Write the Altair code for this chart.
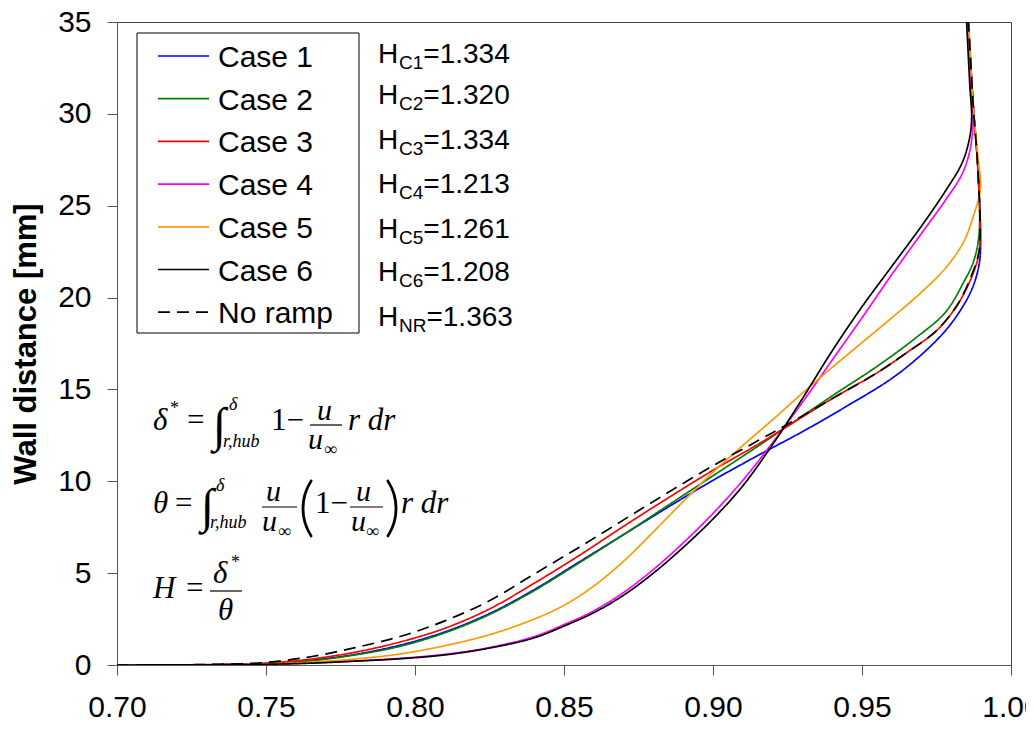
import altair as alt
import pandas as pd

# ---------------- data ----------------
series = ["Case 1", "Case 2", "Case 3", "Case 4", "Case 5", "Case 6", "No ramp"]
colors = ["#0000ff", "#008000", "#ff0000", "#ff00ff", "#ff9900", "#000000", "#000000"]

h_subs = ["C1", "C2", "C3", "C4", "C5", "C6", "NR"]
h_vals = ["1.334", "1.320", "1.334", "1.213", "1.261", "1.208", "1.363"]

x_ticks = [0.70, 0.75, 0.80, 0.85, 0.90, 0.95, 1.00]
y_ticks = [0, 5, 10, 15, 20, 25, 30, 35]

c1_x = [0.700, 0.720, 0.735, 0.750, 0.765, 0.780, 0.795, 0.810, 0.825, 0.840, 0.855, 0.870, 0.885, 0.900,
        0.915, 0.930, 0.945, 0.960, 0.970, 0.978, 0.983, 0.987, 0.9893, 0.9898, 0.9889, 0.9873, 0.9857]
c1_y = [0.00, 0.01, 0.02, 0.08, 0.25, 0.58, 1.08, 1.80, 2.80, 4.10, 5.60, 7.10, 8.60, 10.05,
        11.40, 12.70, 14.10, 15.60, 16.90, 18.20, 19.30, 20.50, 21.80, 23.00, 27.00, 30.50, 35.00]

c2_x = [0.700, 0.720, 0.735, 0.750, 0.765, 0.780, 0.795, 0.810, 0.825, 0.840, 0.855, 0.870, 0.885, 0.900,
        0.915, 0.925, 0.940, 0.955, 0.968, 0.978, 0.984, 0.9875, 0.9893, 0.9889, 0.9873, 0.9857]
c2_y = [0.00, 0.01, 0.02, 0.07, 0.23, 0.55, 1.02, 1.75, 2.75, 4.05, 5.55, 7.10, 8.70, 10.30,
        11.90, 13.00, 14.65, 16.25, 17.80, 19.20, 20.80, 22.00, 23.50, 27.00, 30.50, 35.00]

c3_x = [0.700, 0.720, 0.735, 0.750, 0.765, 0.780, 0.795, 0.810, 0.825, 0.840, 0.855, 0.870, 0.885, 0.900,
        0.915, 0.925, 0.940, 0.955, 0.965, 0.975, 0.982, 0.9865, 0.9890, 0.9896, 0.9889, 0.9873, 0.9857]
c3_y = [0.00, 0.01, 0.03, 0.10, 0.32, 0.70, 1.25, 2.00, 3.05, 4.45, 5.95, 7.55, 9.10, 10.60,
        12.00, 13.00, 14.50, 15.90, 17.00, 18.20, 19.60, 21.00, 22.20, 23.00, 27.00, 30.50, 35.00]

c4_x = [0.700, 0.730, 0.750, 0.765, 0.780, 0.795, 0.810, 0.825, 0.840, 0.850, 0.860, 0.870, 0.880, 0.890,
        0.900, 0.910, 0.920, 0.930, 0.940, 0.950, 0.960, 0.970, 0.978, 0.9835, 0.9862, 0.9873, 0.9866, 0.9857]
c4_y = [0.00, 0.01, 0.04, 0.11, 0.22, 0.36, 0.58, 0.95, 1.55, 2.20, 2.95, 3.95, 5.20, 6.65,
        8.25, 10.05, 12.10, 14.30, 16.60, 18.90, 21.25, 23.50, 25.30, 26.70, 28.00, 29.70, 31.50, 35.00]

c5_x = [0.700, 0.730, 0.750, 0.765, 0.780, 0.795, 0.810, 0.825, 0.840, 0.850, 0.860, 0.870, 0.880, 0.890,
        0.900, 0.910, 0.920, 0.930, 0.940, 0.950, 0.960, 0.970, 0.978, 0.984, 0.9875, 0.9898, 0.9890,
        0.9873, 0.9857]
c5_y = [0.00, 0.01, 0.05, 0.15, 0.33, 0.60, 1.05, 1.65, 2.50, 3.25, 4.30, 5.65, 7.25, 8.90,
        10.50, 11.95, 13.35, 14.80, 16.20, 17.55, 18.90, 20.30, 21.60, 23.00, 24.50, 26.00, 27.50,
        30.50, 35.00]

c6_x = [0.700, 0.730, 0.750, 0.765, 0.780, 0.795, 0.810, 0.825, 0.840, 0.850, 0.860, 0.870, 0.880, 0.890,
        0.900, 0.910, 0.920, 0.930, 0.940, 0.950, 0.960, 0.970, 0.978, 0.9835, 0.9860, 0.9868, 0.9862, 0.9851]
c6_y = [0.00, 0.01, 0.04, 0.10, 0.21, 0.34, 0.55, 0.92, 1.48, 2.12, 2.85, 3.80, 5.00, 6.40,
        7.95, 9.75, 12.00, 14.50, 17.10, 19.50, 21.70, 23.90, 25.80, 27.30, 28.60, 29.80, 31.50, 35.00]

nr_x = [0.700, 0.720, 0.735, 0.750, 0.765, 0.780, 0.795, 0.810, 0.825, 0.840, 0.855, 0.870, 0.885, 0.900,
        0.915, 0.925, 0.940, 0.955, 0.965, 0.975, 0.982, 0.9865, 0.9890, 0.9896, 0.9889, 0.9873, 0.9857]
nr_y = [0.00, 0.01, 0.04, 0.14, 0.45, 0.95, 1.55, 2.40, 3.50, 4.95, 6.40, 7.90, 9.40, 10.85,
        12.20, 13.10, 14.50, 15.90, 17.00, 18.20, 19.60, 21.10, 22.30, 23.00, 27.00, 30.50, 35.00]

curves_x = [c1_x, c2_x, c3_x, c4_x, c5_x, c6_x, nr_x]
curves_y = [c1_y, c2_y, c3_y, c4_y, c5_y, c6_y, nr_y]

rows = []
for name, xs_, ys_ in zip(series, curves_x, curves_y):
    for i, (xv, yv) in enumerate(zip(xs_, ys_)):
        rows.append({"series": name, "x": xv, "y": yv, "order": i})
df = pd.DataFrame(rows)

# ---------------- layout helpers (pixel -> data for annotations) ----------------
X0, X1, Y0, Y1 = 0.70, 1.00, 0.0, 35.0
W, H = 894, 643
PL, PT = 117, 22  # plot-area left/top in page pixels


def px2x(px):
    return X0 + (px - PL) / W * (X1 - X0)


def py2y(py):
    return Y0 + (PT + H - py) / H * (Y1 - Y0)


xs = alt.Scale(domain=[X0, X1], nice=False, zero=False)
ys = alt.Scale(domain=[Y0, Y1], nice=False, zero=False)
xaxis = alt.Axis(title=None, values=x_ticks, format=".2f", labelFont="Liberation Sans", labelFontSize=30,
                 labelColor="black", tickSize=10, tickColor="#555555", domainColor="#555555",
                 labelPadding=17, labelFlush=False, labelOverlap=False, grid=False)
yaxis = alt.Axis(title="Wall distance [mm]", values=y_ticks, format="d", labelFont="Liberation Sans",
                 labelFontSize=30, labelColor="black", tickSize=10, tickColor="#555555",
                 domainColor="#555555", labelPadding=16, labelFlush=False, labelOverlap=False, grid=False,
                 titleFont="Liberation Sans", titleFontSize=31, titleFontWeight="bold", titleColor="black",
                 titlePadding=15)


def X(field="x"):
    return alt.X(f"{field}:Q", scale=xs, axis=xaxis)


def Y(field="y"):
    return alt.Y(f"{field}:Q", scale=ys, axis=yaxis)


color = alt.Color("series:N", scale=alt.Scale(domain=series, range=colors), legend=None)
dash = alt.StrokeDash("series:N",
                      scale=alt.Scale(domain=series, range=[[1, 0]] * 6 + [[12, 7]]),
                      legend=None)

lines = alt.Chart(df).mark_line(strokeWidth=1.7, clip=True, interpolate="catmull-rom").encode(
    x=X(), y=Y(), color=color, strokeDash=dash, order="order:Q"
)

# ---------------- legend (drawn manually) ----------------
leg_box = pd.DataFrame([{"x": px2x(137), "x2": px2x(359), "y": py2y(33), "y2": py2y(333)}])
box = alt.Chart(leg_box).mark_rect(fill="white", stroke="black", strokeWidth=1).encode(
    x=X(), x2="x2:Q", y=Y(), y2="y2:Q"
)

leg_rows = []
for i, name in enumerate(series):
    base = 67 + i * 42.7
    leg_rows.append({"series": name, "x": px2x(158), "x2": px2x(209), "y": py2y(base - 11),
                     "tx": px2x(218), "ty": py2y(base), "label": name})
leg_df = pd.DataFrame(leg_rows)
leg_lines = alt.Chart(leg_df).mark_rule(strokeWidth=1.7).encode(
    x=X(), x2="x2:Q", y=Y(), color=color, strokeDash=dash
)
leg_text = alt.Chart(leg_df).mark_text(font="Liberation Sans", fontSize=30, align="left",
                                       baseline="alphabetic", color="black").encode(
    x=alt.X("tx:Q", scale=xs, axis=xaxis), y=alt.Y("ty:Q", scale=ys, axis=yaxis), text="label:N"
)

# ---------------- H values ----------------
cw = {"C": 0.722, "N": 0.722, "R": 0.722}
h_rows = []
h_base = [63, 104, 149, 193, 238, 281, 326]
for sub, val, b in zip(h_subs, h_vals, h_base):
    subw = sum(cw.get(ch, 0.556) for ch in sub) * 19
    h_rows.append({"x": px2x(378), "y": py2y(b), "t": "H", "fs": 28})
    h_rows.append({"x": px2x(399), "y": py2y(b + 6), "t": sub, "fs": 19})
    h_rows.append({"x": px2x(399 + subw), "y": py2y(b), "t": "=" + val, "fs": 28})
h_df = pd.DataFrame(h_rows)
h_text = alt.Chart(h_df).mark_text(font="Liberation Sans", align="left", baseline="alphabetic",
                                   color="black").encode(
    x=X(), y=Y(), text="t:N", size=alt.Size("fs:Q", scale=None)
)

# ---------------- equations ----------------
eq = [
    # line 1: delta*
    ("δ", 153, 430, 31, "it"), ("*", 170, 414, 18, "rm"), ("=", 187, 430, 31, "rm"),
    ("∫", 213, 441, 48, "rm"), ("δ", 229, 410, 18, "it"), ("r,hub", 223, 447, 18, "it"),
    ("1−", 271, 430, 31, "rm"), ("u", 317, 420, 30, "it"), ("u", 308, 449, 30, "it"),
    ("∞", 324, 455, 18, "rm"), ("r dr", 348, 430, 31, "it"),
    # line 2: theta
    ("θ", 153, 513, 31, "it"), ("=", 175, 513, 31, "rm"),
    ("∫", 201, 522, 48, "rm"), ("δ", 216, 491, 18, "it"), ("r,hub", 210, 528, 18, "it"),
    ("u", 266, 501, 30, "it"), ("u", 262, 531, 30, "it"), ("∞", 278, 537, 18, "rm"),
    ("1−", 315, 513, 31, "rm"),
    ("u", 356, 501, 30, "it"), ("u", 351, 531, 30, "it"), ("∞", 366, 537, 18, "rm"),
    ("r dr", 401, 513, 31, "it"),
    # line 3: H
    ("H", 153, 598, 31, "it"), ("=", 186, 598, 31, "rm"),
    ("δ", 213, 583, 31, "it"), ("*", 231, 568, 18, "rm"), ("θ", 218, 620, 31, "it"),
]
eq_df = pd.DataFrame([{"x": px2x(a), "y": py2y(b), "t": t, "fs": s, "k": k} for t, a, b, s, k in eq])
eq_it = alt.Chart(eq_df[eq_df.k == "it"]).mark_text(font="Liberation Serif", fontStyle="italic",
                                                     align="left", baseline="alphabetic",
                                                     color="black").encode(
    x=X(), y=Y(), text="t:N", size=alt.Size("fs:Q", scale=None)
)
eq_rm = alt.Chart(eq_df[eq_df.k == "rm"]).mark_text(font="Liberation Serif", align="left",
                                                     baseline="alphabetic", color="black").encode(
    x=X(), y=Y(), text="t:N", size=alt.Size("fs:Q", scale=None)
)
# large thin parentheses
par_df = pd.DataFrame([
    {"x": px2x(298), "y": py2y(529), "t": "(", "fs": 66},
    {"x": px2x(384), "y": py2y(529), "t": ")", "fs": 66},
])
parens = alt.Chart(par_df).mark_text(font="Lato", fontWeight=300, align="left", baseline="alphabetic",
                                     color="black").encode(
    x=X(), y=Y(), text="t:N", size=alt.Size("fs:Q", scale=None)
)
bars_df = pd.DataFrame([
    {"x": px2x(310), "x2": px2x(342), "y": py2y(425)},
    {"x": px2x(262), "x2": px2x(297), "y": py2y(507)},
    {"x": px2x(350), "x2": px2x(383), "y": py2y(507)},
    {"x": px2x(210), "x2": px2x(242), "y": py2y(591)},
])
bars = alt.Chart(bars_df).mark_rule(color="black", strokeWidth=1.2).encode(x=X(), x2="x2:Q", y=Y())

chart = alt.layer(lines, box, leg_lines, leg_text, h_text, eq_it, eq_rm, parens, bars).properties(
    width=W, height=H,
    autosize=alt.AutoSizeParams(type="none"),
    padding={"left": 109, "top": 14, "right": 15, "bottom": 57},
).configure_view(stroke="#444444", strokeWidth=1)

chart.save("out.html", embed_options={"renderer": "svg", "actions": False})
